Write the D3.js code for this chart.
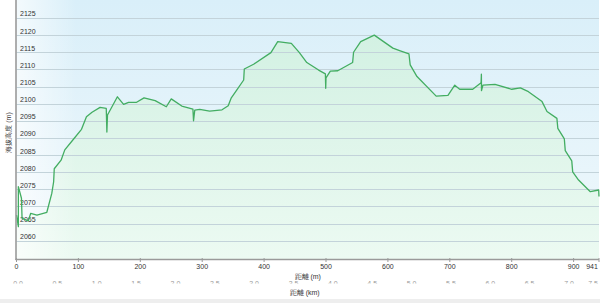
<!DOCTYPE html>
<html>
<head>
<meta charset="utf-8">
<script src="https://cdn.jsdelivr.net/npm/d3@7"></script>
<style>
  body { margin: 0; background: #fff; }
  svg { display: block; }
</style>
</head>
<body>
<div id="main"></div>
<script>
// Profile data (distance in m, elevation in m)
var distances = [0, 3, 3, 8, 9, 19, 23, 33, 49, 57, 60, 61, 72, 78, 92, 105, 113, 122, 135, 145,
  146, 147, 163, 173, 181, 194, 206, 224, 242, 250, 267, 285, 286, 288, 296, 312, 332, 342, 347, 356,
  367, 368, 383, 411, 422, 444, 457, 469, 488, 499, 499.5, 500, 507, 519, 543, 544.5, 556, 578, 608, 620,
  634, 636, 647, 678, 697, 708, 716, 737, 750.5, 751, 751.2, 753.5, 773, 800, 814, 827, 849, 857, 873, 874.5,
  885, 886.5, 897, 898.5, 908, 927, 940.5, 941]
var elevations = [2067.5, 2064.1, 2075.8, 2072.4, 2066.5, 2065.8, 2068, 2067.5, 2068.3, 2073.8, 2077.2, 2081, 2083.5, 2086.5, 2089.6, 2092.5, 2096.2, 2097.5, 2098.9, 2098.6,
  2091.7, 2096.7, 2102, 2099.8, 2100.4, 2100.4, 2101.7, 2100.9, 2099.1, 2101.4, 2099.3, 2098.4, 2095, 2098.1, 2098.3, 2097.8, 2098.2, 2099.4, 2101.7, 2104,
  2106.9, 2110.1, 2111.5, 2114.9, 2118.1, 2117.6, 2114.9, 2112, 2109.8, 2108.7, 2104.5, 2107.5, 2109.5, 2109.6, 2112, 2115, 2118.1, 2120, 2116.2, 2115.4,
  2114.5, 2111.3, 2107.9, 2102.2, 2102.4, 2105.4, 2104.2, 2104.2, 2106.1, 2108.6, 2103.8, 2105.4, 2105.6, 2104.2, 2104.6, 2103.5, 2100.6, 2097.7, 2095.7, 2092.8,
  2089.7, 2086.3, 2083.3, 2080.1, 2077.7, 2074.3, 2074.8, 2072.9]

// Axis ticks
var yTicks = [2060, 2065, 2070, 2075, 2080, 2085, 2090, 2095, 2100, 2105, 2110, 2115, 2120, 2125]
var xTicks = [0, 100, 200, 300, 400, 500, 600, 700, 800, 900, 941]
var kmTicks = ['0.0', '0.5', '1.0', '1.5', '2.0', '2.5', '3.0', '3.5', '4.0', '4.5', '5.0', '5.5', '6.0', '6.5', '7.0', '7.5']

var yTitle = '海拔高度 (m)'
var xTitle = '距離 (m)'
var kmTitle = '距離 (km)'

function draw_profile() {
  var width = 600, height = 303
  var pLeft = 16.5, pRight = 599, pTop = 0, pBottom = 259

  var data = distances.map((d, i) => ({d: d, e: elevations[i]}))

  var x = d3.scaleLinear().domain([0, 941]).range([pLeft, pRight])
  var xKm = d3.scaleLinear().domain([0, 7.4]).range([pLeft, pRight])
  var y = d3.scaleLinear().domain([2054.66, 2130.25]).range([pBottom, pTop])

  var svg = d3.select('#main').append('svg')
    .attr('width', width)
    .attr('height', height)
    .style('font-family', '"Liberation Sans", Arial, sans-serif')

  var defs = svg.append('defs')

  // Background gradient of the plot
  var bg = defs.append('linearGradient').attr('id', 'bg')
    .attr('x1', 0).attr('y1', 0).attr('x2', 0).attr('y2', 1)
  bg.append('stop').attr('offset', '0%').attr('stop-color', '#d9eff9')
  bg.append('stop').attr('offset', '100%').attr('stop-color', '#f0f8fc')

  var whiteLeft = defs.append('linearGradient').attr('id', 'whiteLeft')
    .attr('x1', 0).attr('y1', 0).attr('x2', 1).attr('y2', 0)
  whiteLeft.append('stop').attr('offset', '0%').attr('stop-color', '#fff').attr('stop-opacity', 0.7)
  whiteLeft.append('stop').attr('offset', '100%').attr('stop-color', '#fff').attr('stop-opacity', 0)

  var areaGrad = defs.append('linearGradient').attr('id', 'areaGrad')
    .attr('gradientUnits', 'userSpaceOnUse')
    .attr('x1', 0).attr('y1', y(2120)).attr('x2', 0).attr('y2', pBottom)
  areaGrad.append('stop').attr('offset', '0%').attr('stop-color', '#d3f1e3')
  areaGrad.append('stop').attr('offset', '100%').attr('stop-color', '#ecfaf2')

  defs.append('clipPath').attr('id', 'kmClip')
    .append('rect').attr('x', 0).attr('y', 270).attr('width', width).attr('height', 13.5)

  // Plot background
  svg.append('rect')
    .attr('x', pLeft).attr('y', pTop)
    .attr('width', pRight - pLeft).attr('height', pBottom - pTop)
    .attr('fill', 'url(#bg)')

  // Area under the profile
  var area = d3.area()
    .x(d => x(d.d))
    .y0(pBottom)
    .y1(d => y(d.e))
  svg.append('path')
    .datum(data)
    .attr('d', area)
    .attr('fill', 'url(#areaGrad)')

  svg.append('rect')
    .attr('x', pLeft).attr('y', pTop)
    .attr('width', 60).attr('height', pBottom - pTop)
    .attr('fill', 'url(#whiteLeft)')

  // Gridlines
  svg.append('g')
    .selectAll('line')
    .data(yTicks)
    .join('line')
      .attr('x1', pLeft).attr('x2', pRight)
      .attr('y1', d => Math.round(y(d)) + 0.5)
      .attr('y2', d => Math.round(y(d)) + 0.5)
      .attr('stroke', '#c3d3da')
      .attr('stroke-width', 1)

  // Y tick labels (inside the plot, above gridline)
  svg.append('g')
    .selectAll('text')
    .data(yTicks)
    .join('text')
      .attr('x', 20)
      .attr('y', d => y(d) - 1.5)
      .attr('font-size', 7)
      .attr('fill', '#333')
      .text(d => d)

  // Profile line
  var line = d3.line()
    .x(d => x(d.d))
    .y(d => y(d.e))
  svg.append('path')
    .datum(data)
    .attr('d', line)
    .attr('fill', 'none')
    .attr('stroke', '#43ad62')
    .attr('stroke-width', 1.3)
    .attr('stroke-linejoin', 'round')

  // Axes lines
  svg.append('line')
    .attr('x1', pLeft - 0.5).attr('x2', pLeft - 0.5)
    .attr('y1', 0).attr('y2', pBottom + 1)
    .attr('stroke', '#9a9a9a').attr('stroke-width', 1.6)
  svg.append('line')
    .attr('x1', pLeft - 1).attr('x2', pRight)
    .attr('y1', pBottom + 0.5).attr('y2', pBottom + 0.5)
    .attr('stroke', '#9a9a9a').attr('stroke-width', 1.4)

  // X ticks (m)
  var xt = svg.append('g')
  xt.selectAll('line')
    .data(xTicks)
    .join('line')
      .attr('x1', d => x(d)).attr('x2', d => x(d))
      .attr('y1', pBottom - 1).attr('y2', pBottom + 3)
      .attr('stroke', '#9a9a9a')
  xt.selectAll('text')
    .data(xTicks)
    .join('text')
      .attr('x', d => Math.min(x(d), 592))
      .attr('y', 268.5)
      .attr('text-anchor', 'middle')
      .attr('font-size', 7)
      .attr('fill', '#333')
      .text(d => d)

  svg.append('text')
    .attr('x', (pLeft + pRight) / 2)
    .attr('y', 278.5)
    .attr('text-anchor', 'middle')
    .attr('font-size', 7)
    .attr('fill', '#333')
    .text(xTitle)

  // Km labels (clipped, as in the reference)
  svg.append('g')
    .attr('clip-path', 'url(#kmClip)')
    .selectAll('text')
    .data(kmTicks)
    .join('text')
      .attr('x', d => Math.min(xKm(+d) + 1.5, 593))
      .attr('y', 285.5)
      .attr('text-anchor', 'middle')
      .attr('font-size', 7)
      .attr('fill', '#999')
      .text(d => d)

  svg.append('text')
    .attr('x', (pLeft + pRight) / 2 - 3)
    .attr('y', 294.5)
    .attr('text-anchor', 'middle')
    .attr('font-size', 7)
    .attr('fill', '#333')
    .text(kmTitle)

  // Y title
  svg.append('text')
    .attr('transform', `translate(10.5, ${(pTop + pBottom) / 2 + 3}) rotate(-90)`)
    .attr('text-anchor', 'middle')
    .attr('font-size', 7)
    .attr('fill', '#333')
    .text(yTitle)

  // Bottom gray band
  svg.append('rect')
    .attr('x', 0).attr('y', 299)
    .attr('width', width).attr('height', 4)
    .attr('fill', '#eeeeee')
}

draw_profile()
</script>
</body>
</html>
